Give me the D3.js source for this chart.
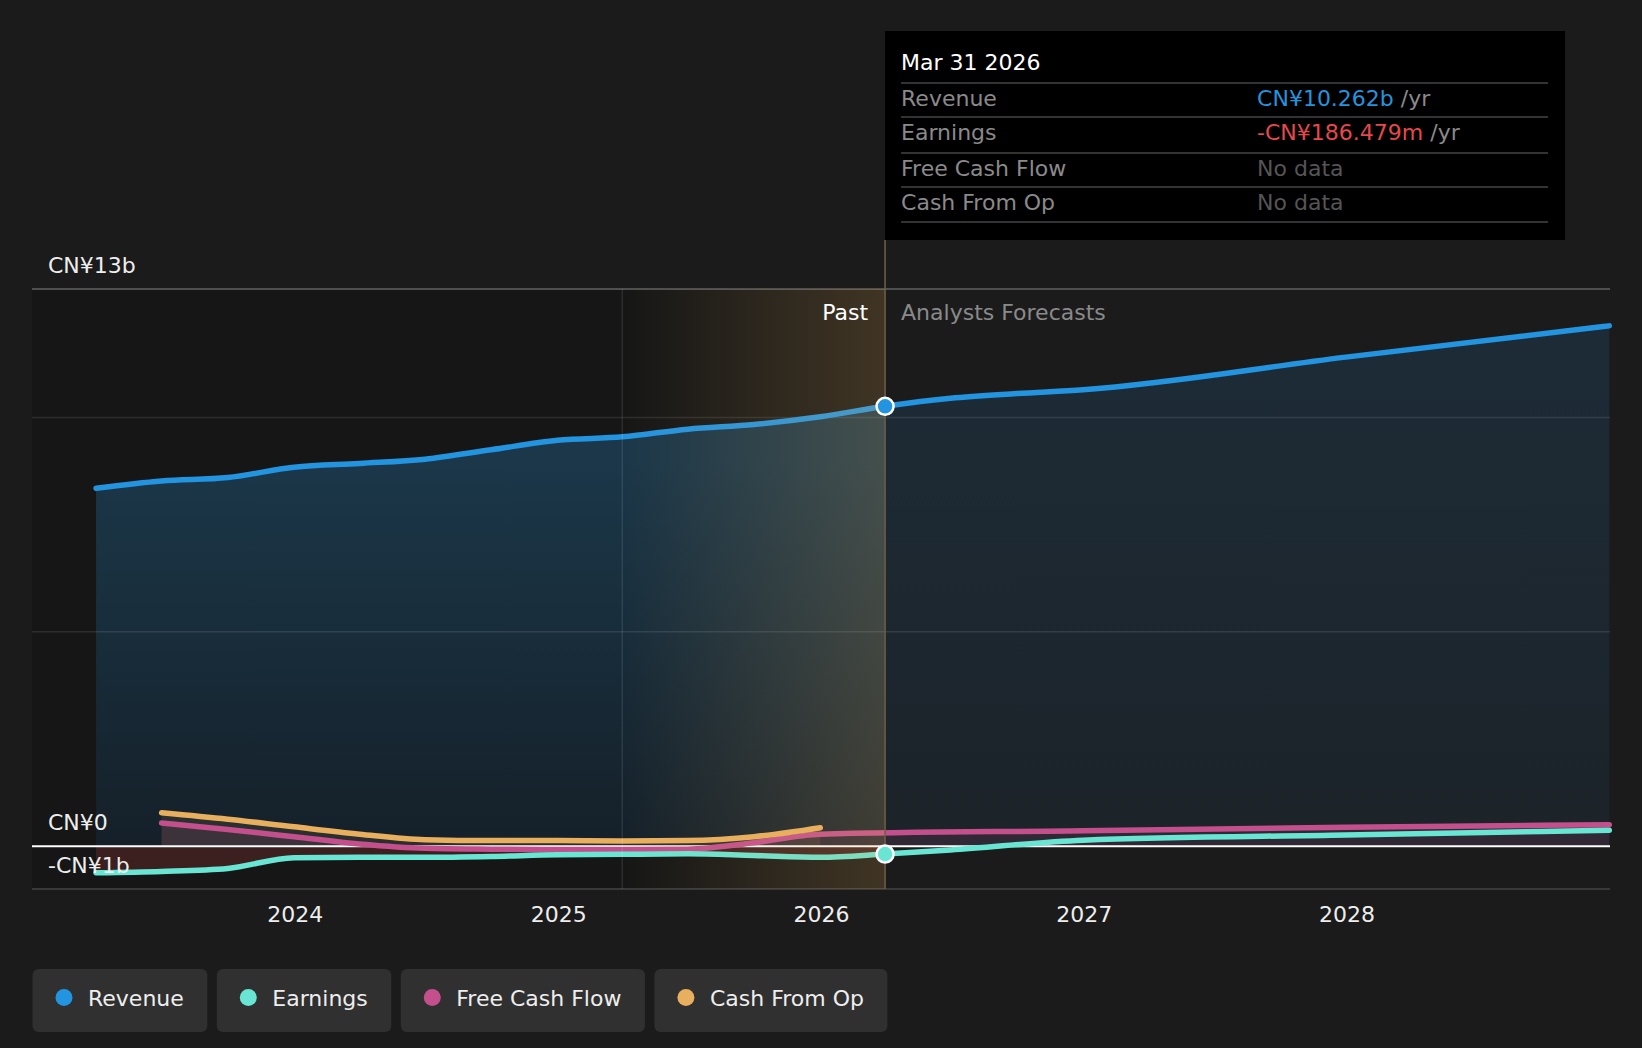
<!DOCTYPE html>
<html>
<head>
<meta charset="utf-8">
<script src="https://cdn.jsdelivr.net/npm/d3@7"></script>
<style>
    html, body { margin: 0; padding: 0; background: #1b1b1b; }
    svg { display: block; font-family: "DejaVu Sans", sans-serif; }
</style>
</head>
<body>
<div id="chart"></div>
<script>
// values in CN¥ billions
const revenueDates = ["2023-03-31", "2023-06-30", "2023-09-30", "2023-12-31", "2024-03-31", "2024-06-30",
    "2024-09-30", "2024-12-31", "2025-03-31", "2025-06-30", "2025-09-30", "2025-12-31", "2026-03-31",
    "2026-06-30", "2026-09-30", "2026-12-31", "2027-12-31", "2028-12-31"];
const revenueValues = [8.35, 8.52, 8.60, 8.84, 8.93, 9.03, 9.25, 9.47, 9.55, 9.73, 9.84, 10.02, 10.262,
    10.45, 10.56, 10.65, 11.41, 12.14];

const earningsDates = ["2023-03-31", "2023-06-30", "2023-09-30", "2023-12-31", "2024-03-31", "2024-06-30",
    "2024-09-30", "2024-12-31", "2025-03-31", "2025-06-30", "2025-09-30", "2025-12-31", "2026-03-31",
    "2026-06-30", "2026-12-31", "2027-12-31", "2028-12-31"];
const earningsValues = [-0.62, -0.59, -0.52, -0.27, -0.26, -0.26, -0.24, -0.20, -0.19, -0.18, -0.22, -0.26, -0.186,
    -0.09, 0.14, 0.26, 0.37];

const fcfDates = ["2023-06-30", "2023-09-30", "2023-12-31", "2024-03-31", "2024-06-30", "2024-09-30",
    "2024-12-31", "2025-03-31", "2025-06-30", "2025-09-30", "2025-12-31", "2026-12-31", "2027-12-31", "2028-12-31"];
const fcfValues = [0.54, 0.39, 0.22, 0.05, -0.05, -0.07, -0.08, -0.08, -0.07, 0.08, 0.28, 0.36, 0.44, 0.50];

const cfoDates = ["2023-06-30", "2023-09-30", "2023-12-31", "2024-03-31", "2024-06-30", "2024-09-30",
    "2024-12-31", "2025-03-31", "2025-06-30", "2025-09-30", "2025-12-31"];
const cfoValues = [0.78, 0.63, 0.45, 0.28, 0.15, 0.13, 0.13, 0.12, 0.13, 0.22, 0.43];

const yearTicks = ["2024", "2025", "2026", "2027", "2028"];
const yLabels = [{v: 13, t: "CN¥13b"}, {v: 0, t: "CN¥0"}, {v: -1, t: "-CN¥1b"}];
const gridValues = [5, 10];

const seriesNames = ["Revenue", "Earnings", "Free Cash Flow", "Cash From Op"];
const seriesColors = ["#2394df", "#68e6d3", "#c44f8d", "#e8b05e"];

const tooltipDate = "Mar 31 2026";
const tooltipRows = [
    {label: "Revenue", value: "CN¥10.262b", color: "#2394df", unit: " /yr"},
    {label: "Earnings", value: "-CN¥186.479m", color: "#e5484d", unit: " /yr"},
    {label: "Free Cash Flow", value: "No data", color: "#555555", unit: ""},
    {label: "Cash From Op", value: "No data", color: "#555555", unit: ""}
];

const nowDate = "2026-03-31";
const bandStartDate = "2025-03-31";

class FinancialsChart {
    constructor(parentElement) {
        this.parentElement = parentElement;
        this.width = 1642;
        this.height = 1048;
        this.font = 22;
        this.initVis();
    }

    initVis() {
        const vis = this;
        const parse = d3.timeParse("%Y-%m-%d");
        const zip = (dates, vals) => dates.map((d, i) => ({date: parse(d), value: vals[i]}));

        vis.revenue = zip(revenueDates, revenueValues);
        vis.earnings = zip(earningsDates, earningsValues);
        vis.fcf = zip(fcfDates, fcfValues);
        vis.cfo = zip(cfoDates, cfoValues);
        vis.now = parse(nowDate);
        vis.bandStart = parse(bandStartDate);

        vis.svg = d3.select(`#${vis.parentElement}`).append("svg")
            .attr("width", vis.width)
            .attr("height", vis.height);

        vis.svg.append("rect")
            .attr("width", vis.width).attr("height", vis.height)
            .attr("fill", "#1b1b1b");

        vis.x = d3.scaleTime()
            .domain([new Date(2023, 0, 1), new Date(2029, 0, 1)])
            .range([32, 1610]);
        vis.y = d3.scaleLinear()
            .domain([-1, 13])
            .range([889, 289]);

        const x0 = vis.x.range()[0], x1 = vis.x.range()[1];
        const xNow = vis.x(vis.now), xBand = vis.x(vis.bandStart);

        const defs = vis.svg.append("defs");
        const grad = (id, x1g, y1g, x2g, y2g, stops) => {
            const g = defs.append("linearGradient").attr("id", id)
                .attr("gradientUnits", "userSpaceOnUse")
                .attr("x1", x1g).attr("y1", y1g).attr("x2", x2g).attr("y2", y2g);
            stops.forEach(s => g.append("stop").attr("offset", s[0])
                .attr("stop-color", s[1]).attr("stop-opacity", s[2]));
        };
        grad("pastArea", 0, vis.y(9), 0, vis.y(0), [[0, "#1b3749", 1], [1, "#152029", 1]]);
        grad("futureArea", 0, vis.y(11), 0, vis.y(0), [[0, "#1d2b36", 1], [1, "#1c2329", 1]]);
        grad("band", xBand, 0, xNow, 0, [[0, "#e8b05c", 0], [1, "#e8b05c", 0.2]]);

        defs.append("clipPath").attr("id", "clipPast").append("rect")
            .attr("x", x0).attr("y", 0).attr("width", xNow - x0).attr("height", vis.height);
        defs.append("clipPath").attr("id", "clipFuture").append("rect")
            .attr("x", xNow).attr("y", 0).attr("width", x1 - xNow).attr("height", vis.height);

        // darker past background
        vis.svg.append("rect")
            .attr("x", x0).attr("y", vis.y(13))
            .attr("width", xNow - x0).attr("height", vis.y(-1) - vis.y(13))
            .attr("fill", "#161616");

        const area = d3.area()
            .x(d => vis.x(d.date))
            .y0(vis.y(0))
            .y1(d => vis.y(d.value))
            .curve(d3.curveMonotoneX);

        vis.svg.append("path").datum(vis.revenue)
            .attr("d", area).attr("fill", "url(#pastArea)")
            .attr("clip-path", "url(#clipPast)");
        vis.svg.append("path").datum(vis.revenue)
            .attr("d", area).attr("fill", "url(#futureArea)")
            .attr("clip-path", "url(#clipFuture)");

        vis.svg.append("path").datum(vis.earnings)
            .attr("d", area).attr("fill", "#e5484d").attr("fill-opacity", 0.19)
            .attr("clip-path", "url(#clipPast)");
        vis.svg.append("path").datum(vis.cfo)
            .attr("d", area).attr("fill", seriesColors[3]).attr("fill-opacity", 0.1);
        vis.svg.append("path").datum(vis.fcf)
            .attr("d", area).attr("fill", seriesColors[2]).attr("fill-opacity", 0.12);

        // grid lines
        vis.svg.selectAll(".grid")
            .data(gridValues)
            .enter().append("line")
            .attr("class", "grid")
            .attr("x1", x0).attr("x2", x1)
            .attr("y1", d => vis.y(d)).attr("y2", d => vis.y(d))
            .attr("stroke", "#ffffff").attr("stroke-opacity", 0.1).attr("stroke-width", 1.5);
        vis.svg.append("line")
            .attr("x1", x0).attr("x2", x1)
            .attr("y1", vis.y(13)).attr("y2", vis.y(13))
            .attr("stroke", "#4f4f4f").attr("stroke-width", 2);
        vis.svg.append("line")
            .attr("x1", x0).attr("x2", x1)
            .attr("y1", vis.y(-1)).attr("y2", vis.y(-1))
            .attr("stroke", "#444").attr("stroke-width", 1.5);
        vis.svg.append("line")
            .attr("x1", x0).attr("x2", x1)
            .attr("y1", vis.y(0)).attr("y2", vis.y(0))
            .attr("stroke", "#ffffff").attr("stroke-width", 2);

        // lines, earnings last so it sits over the cash lines near zero
        const line = d3.line()
            .x(d => vis.x(d.date))
            .y(d => vis.y(d.value))
            .curve(d3.curveMonotoneX);
        [[vis.revenue, 0], [vis.fcf, 2], [vis.cfo, 3], [vis.earnings, 1]].forEach(([data, i]) => {
            vis.svg.append("path").datum(data)
                .attr("d", line)
                .attr("fill", "none")
                .attr("stroke", seriesColors[i])
                .attr("stroke-width", 5.5)
                .attr("stroke-linecap", "round");
        });

        // last-year band
        vis.svg.append("rect")
            .attr("x", xBand).attr("y", vis.y(13))
            .attr("width", xNow - xBand).attr("height", vis.y(-1) - vis.y(13))
            .attr("fill", "url(#band)");
        vis.svg.append("line")
            .attr("x1", xBand).attr("x2", xBand)
            .attr("y1", vis.y(13)).attr("y2", vis.y(-1))
            .attr("stroke", "#ffffff").attr("stroke-opacity", 0.1).attr("stroke-width", 1.5);
        vis.svg.append("line")
            .attr("x1", xNow).attr("x2", xNow)
            .attr("y1", 240).attr("y2", vis.y(-1))
            .attr("stroke", "#6e6046").attr("stroke-width", 1.5);

        // y labels
        vis.svg.selectAll(".ylabel")
            .data(yLabels)
            .enter().append("text")
            .attr("class", "ylabel")
            .attr("x", 48)
            .attr("y", d => vis.y(d.v) - 16)
            .attr("fill", "#eeeeee")
            .attr("font-size", vis.font)
            .text(d => d.t);

        // x axis
        const xAxis = vis.svg.append("g")
            .attr("transform", `translate(0,${vis.y(-1)})`)
            .call(d3.axisBottom(vis.x)
                .tickValues(yearTicks.map(t => d3.timeParse("%Y")(t)))
                .tickFormat(d3.timeFormat("%Y"))
                .tickSize(0)
                .tickPadding(17));
        xAxis.select(".domain").remove();
        xAxis.selectAll("text")
            .attr("fill", "#eeeeee")
            .attr("font-size", vis.font)
            .attr("font-family", "DejaVu Sans, sans-serif");

        // past / forecast labels
        vis.svg.append("text")
            .attr("x", xNow - 17).attr("y", 320)
            .attr("text-anchor", "end")
            .attr("fill", "#ffffff").attr("font-size", vis.font)
            .text("Past");
        vis.svg.append("text")
            .attr("x", xNow + 16).attr("y", 320)
            .attr("fill", "#8a8a8a").attr("font-size", vis.font)
            .text("Analysts Forecasts");

        // current-point markers
        const nowRevenue = vis.revenue.find(d => +d.date === +vis.now);
        const nowEarnings = vis.earnings.find(d => +d.date === +vis.now);
        [[nowRevenue, seriesColors[0]], [nowEarnings, seriesColors[1]]].forEach(([d, c]) => {
            vis.svg.append("circle")
                .attr("cx", vis.x(d.date)).attr("cy", vis.y(d.value))
                .attr("r", 8.5)
                .attr("fill", c)
                .attr("stroke", "#ffffff").attr("stroke-width", 2.5);
        });

        vis.drawTooltip(xNow);
        vis.drawLegend();
    }

    drawTooltip(xNow) {
        const vis = this;
        const tip = vis.svg.append("g");
        tip.append("rect")
            .attr("x", xNow).attr("y", 31)
            .attr("width", 680).attr("height", 209)
            .attr("fill", "#000000");

        const left = xNow + 16, right = xNow + 663, valueX = xNow + 372;
        tip.append("text")
            .attr("x", left).attr("y", 70)
            .attr("fill", "#ffffff").attr("font-size", vis.font)
            .text(tooltipDate);

        const lineYs = [83, 117, 153, 187, 222];
        const textYs = [106, 140, 176, 210];
        tip.selectAll(".sep")
            .data(lineYs)
            .enter().append("line")
            .attr("class", "sep")
            .attr("x1", left).attr("x2", right)
            .attr("y1", d => d).attr("y2", d => d)
            .attr("stroke", "#444").attr("stroke-width", 1.5);

        tooltipRows.forEach((r, i) => {
            tip.append("text")
                .attr("x", left).attr("y", textYs[i])
                .attr("fill", "#8a8a8a").attr("font-size", vis.font)
                .text(r.label);
            const t = tip.append("text")
                .attr("x", valueX).attr("y", textYs[i])
                .attr("font-size", vis.font);
            t.append("tspan").attr("fill", r.color).text(r.value);
            if (r.unit) t.append("tspan").attr("fill", "#8a8a8a").text(r.unit);
        });
    }

    drawLegend() {
        const vis = this;
        const legend = vis.svg.append("g").attr("transform", "translate(32.5,969)");
        let offset = 0;
        seriesNames.forEach((name, i) => {
            const item = legend.append("g").attr("transform", `translate(${offset},0)`);
            const bg = item.append("rect")
                .attr("height", 63).attr("rx", 6)
                .attr("fill", "#303030");
            item.append("circle")
                .attr("cx", 31.5).attr("cy", 28.5).attr("r", 8.5)
                .attr("fill", seriesColors[i]);
            const label = item.append("text")
                .attr("x", 55.5).attr("y", 36.5)
                .attr("fill", "#eeeeee").attr("font-size", vis.font)
                .text(name);
            const w = 55.5 + label.node().getComputedTextLength() + 23.5;
            bg.attr("width", w);
            offset += w + 9.5;
        });
    }
}

new FinancialsChart("chart");
</script>
</body>
</html>
